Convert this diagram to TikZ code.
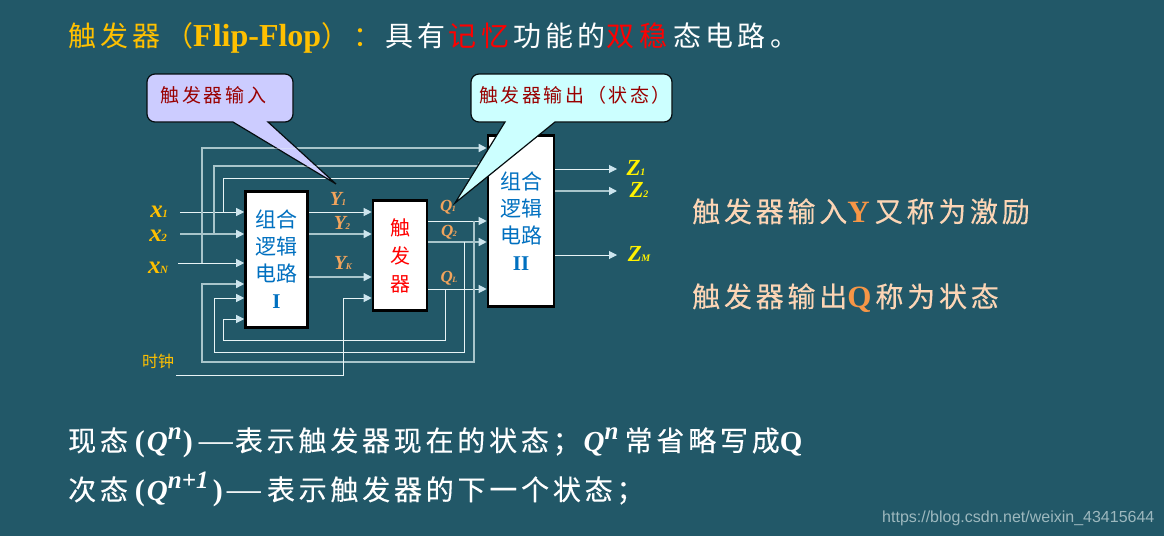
\documentclass[tikz,border=0pt]{standalone}
\usepackage{fontspec}
\setmainfont{Liberation Serif}
\setsansfont{Liberation Sans}
\newfontfamily\cjk[LetterSpace=13.5]{Noto Sans CJK SC}
\newfontfamily\cjktitle[LetterSpace=15.5]{Noto Sans CJK SC}
\newfontfamily\cjkbold[LetterSpace=13.5,FakeBold=0.25]{Noto Sans CJK SC}
\newfontfamily\cjktight{Noto Sans CJK SC}
\usetikzlibrary{arrows.meta}
\definecolor{bgc}{HTML}{225868}
\definecolor{gold}{HTML}{FFC000}
\definecolor{peach}{HTML}{FCD5B5}
\definecolor{orng}{HTML}{F79646}
\definecolor{ylab}{HTML}{F2A45C}
\definecolor{boxblue}{HTML}{0070C0}
\definecolor{wirew}{HTML}{E8F4F6}
\definecolor{wireg}{HTML}{A9C5CB}
\definecolor{tipc}{HTML}{CDE5EE}
\definecolor{calla}{HTML}{CCCCFF}
\definecolor{callb}{HTML}{CCFFFF}
\definecolor{callt}{HTML}{990000}
\definecolor{wm}{HTML}{9DB8BE}
\newcommand\fs[1]{\fontsize{#1}{#1}\selectfont}
\newcommand\symb[4]{{\fs{#1}\bfseries\itshape #3\kern-0.5pt\fs{#2}\normalfont\itshape\bfseries #4}}
\newcommand\supq[2]{\raisebox{0.40em}{\makebox[#1pt][l]{\fs{25}\bfseries\itshape #2}}}
\newcommand\dashq{{\rmfamily\mdseries\upshape\fs{34}—}}
\tikzset{
  wire/.style={draw=wirew,line width=1pt},
  wireg/.style={draw=wireg,line width=1.5pt},
  tipped/.style={-{Triangle[length=8pt,width=8pt,color=tipc]}},
  logicbox/.style={draw=black,fill=white,line width=2.6pt,inner sep=0pt,align=center},
  labeltext/.style={inner sep=0pt,anchor=center},
  linetext/.style={inner sep=0pt,anchor=base west},
  callout/.style={draw=black!85!bgc,line width=1.2pt},
  calltext/.style={inner sep=0pt,anchor=center,text=callt,font=\fs{19}\cjk},
}
\begin{document}
\begin{tikzpicture}[x=1pt,y=-1pt]
\useasboundingbox (0,0) rectangle (1164,536);
\fill[bgc] (0,0) rectangle (1164,536);
% boxes as nodes first (coordinates), drawn later
\path node[logicbox,minimum width=62pt,minimum height=136pt,draw=none,fill=none] (b1) at (276.5,259.5) {};
\path node[logicbox,minimum width=54pt,minimum height=110pt,draw=none,fill=none] (ff) at (400,255.5) {};
\path node[logicbox,minimum width=66pt,minimum height=171pt,draw=none,fill=none] (b2) at (521,221) {};
% free ends and junctions
\coordinate (x1s) at (180,212);
\coordinate (x2s) at (180,234);
\coordinate (xns) at (178,263);
\coordinate (clks) at (176,375);
\coordinate (j1) at (223,212);
\coordinate (j2) at (214,234);
\coordinate (j3) at (202,263);
\coordinate (yy1) at (0,212);
\coordinate (yy2) at (0,234);
\coordinate (yyk) at (0,277);
\coordinate (qq1) at (0,221);
\coordinate (qq2) at (0,242);
\coordinate (qql) at (0,289);
\coordinate (z1e) at (617,169);
\coordinate (z2e) at (617,191);
\coordinate (zme) at (617,255);
\coordinate (f1) at (474,221);
\coordinate (f2) at (464,242);
\coordinate (f3) at (445,289);
% inputs
\draw[wire,tipped] (x1s) -- (b1.west |- x1s);
\draw[wireg,tipped] (x2s) -- (b1.west |- x2s);
\draw[wire,tipped] (xns) -- (b1.west |- xns);
% bypass lines to block II
\draw[wire,tipped] (j1) -- (223,178) -- (b2.west |- 0,178);
\draw[wireg,tipped] (j2) -- (214,166) -- (b2.west |- 0,166);
\draw[wireg,tipped] (j3) -- (202,148) -- (b2.west |- 0,148);
% Y lines
\draw[wire,tipped] (b1.east |- yy1) -- (ff.west |- yy1);
\draw[wireg,tipped] (b1.east |- yy2) -- (ff.west |- yy2);
\draw[wireg,tipped] (b1.east |- yyk) -- (ff.west |- yyk);
% Q lines
\draw[wire,tipped] (ff.east |- qq1) -- (b2.west |- qq1);
\draw[wireg,tipped] (ff.east |- qq2) -- (b2.west |- qq2);
\draw[wire,tipped] (ff.east |- qql) -- (b2.west |- qql);
% feedback
\draw[wireg,tipped] (f1) -- (474,362) -- (202,362) -- (202,284) -- (b1.west |- 0,284);
\draw[wire,tipped] (f2) -- (464,352) -- (214,352) -- (214,298) -- (b1.west |- 0,298);
\draw[wire,tipped] (f3) -- (445,340) -- (223,340) -- (223,319) -- (b1.west |- 0,319);
% clock
\draw[wire,tipped] (clks) -- (343,375) -- (343,298) -- (ff.west |- 0,298);
% outputs
\draw[wire,tipped] (b2.east |- z1e) -- (z1e);
\draw[wireg,tipped] (b2.east |- z2e) -- (z2e);
\draw[wire,tipped] (b2.east |- zme) -- (zme);
% boxes
\node[logicbox,minimum width=62pt,minimum height=136pt,text=boxblue,font=\fs{21}\cjktight,
  execute at begin node={\baselineskip=27pt}] (b1b) at (276.5,259.5) {组合\\逻辑\\电路\\{\fs{21}\bfseries\rmfamily I}};
\node[logicbox,minimum width=54pt,minimum height=110pt,text=red,font=\fs{20}\cjktight,
  execute at begin node={\baselineskip=28pt}] (ffb) at (400,255.5) {触\\发\\器};
\node[logicbox,minimum width=66pt,minimum height=171pt,text=boxblue,font=\fs{21}\cjktight,
  execute at begin node={\baselineskip=27pt}] (b2b) at (521,221) {组合\\逻辑\\电路\\{\fs{21}\bfseries\rmfamily II}};
% callouts
\path[callout,fill=calla,rounded corners=8pt]
  (147,74) -- (293,74) -- (293,122) [sharp corners] -- (268,122) -- (336,184) -- (233,122)
  [rounded corners=8pt] -- (147,122) -- cycle;
\begin{scope}
  \clip (268,123) -- (336,184) -- (233,123) -- cycle;
  \draw[wire,opacity=.4] (202,148) -- (b2.west |- 0,148);
  \draw[wire,opacity=.4] (214,166) -- (b2.west |- 0,166);
\end{scope}
\node[calltext] (c1) at (213.5,95) {触发器输入};
\path[callout,fill=callb,rounded corners=8pt]
  (471,74) -- (672,74) -- (672,122) [sharp corners] -- (555,122) -- (455,203) -- (505,122)
  [rounded corners=8pt] -- (471,122) -- cycle;
\node[calltext] (c2) at (575,95) {触发器输出（状态）};
% signal labels
\node[labeltext,text=gold] (lx1) at (159,212) {\symb{25}{11}{x}{1}};
\node[labeltext,text=gold] (lx2) at (158,236) {\symb{25}{11}{x}{2}};
\node[labeltext,text=gold] (lxn) at (158,268) {\symb{25}{11}{x}{N}};
\node[labeltext,text=gold,font=\fs{16}\cjktight] (clk) at (158,361) {时钟};
\node[labeltext,text=ylab] (ly1) at (338,199) {\symb{20}{9}{Y}{1}};
\node[labeltext,text=ylab] (ly2) at (342,223) {\symb{20}{9}{Y}{2}};
\node[labeltext,text=ylab] (lyk) at (343,263) {\symb{20}{9}{Y}{K}};
\node[labeltext,text=ylab] (lq1) at (448,207) {\symb{17}{8}{Q}{1}};
\node[labeltext,text=ylab] (lq2) at (449,232) {\symb{17}{8}{Q}{2}};
\node[labeltext,text=ylab] (lql) at (449,278) {\symb{17}{8}{Q}{L}};
\node[labeltext,text=yellow] (lz1) at (636,168) {\symb{23}{10}{Z}{1}};
\node[labeltext,text=yellow] (lz2) at (639,190) {\symb{23}{10}{Z}{2}};
\node[labeltext,text=yellow] (lzm) at (639,254) {\symb{23}{10}{Z}{M}};
% text lines
\node[linetext,text=white,font=\fs{28}] (title) at (68,46)
  {{\color{gold}\cjktitle 触发器（\fs{32}\bfseries\rmfamily Flip-Flop\fs{28}\mdseries\cjktitle ）：}\kern4pt\cjktitle 具有\kern3pt{\color{red}记忆}\kern4pt功能的\kern1pt{\color{red}双稳}\kern6pt态电路。};
\node[linetext,text=peach,font=\fs{28}] (t1) at (692,222)
  {\cjkbold 触发器输入{\color{orng}\fs{31}\bfseries\rmfamily Y}\kern5pt\mdseries\fs{28}\cjkbold 又称为激励};
\node[linetext,text=peach,font=\fs{28}] (t2) at (692,307)
  {\cjkbold 触发器输出{\color{orng}\fs{31}\bfseries\rmfamily Q}\kern4pt\mdseries\fs{28}\cjkbold 称为状态};
\node[linetext,text=white,font=\fs{28}] (b1t) at (68,451)
  {\cjkbold 现态\kern7pt{\rmfamily\bfseries\fs{30}(\kern2pt\fs{29}\itshape Q\supq{15}{n}\upshape\fs{30})}\kern6pt\dashq\kern2pt\cjkbold 表示触发器现在的状态；\kern3pt{\rmfamily\bfseries\itshape\fs{29}Q\supq{20}{n}}\cjkbold 常省略写成{\rmfamily\bfseries\fs{29}Q}};
\node[linetext,text=white,font=\fs{28}] (b2t) at (68,500)
  {\cjkbold 次态\kern7pt{\rmfamily\bfseries\fs{30}(\kern2pt\fs{29}\itshape Q\supq{45}{n+1}\upshape\fs{30})}\kern4pt\dashq\kern6pt\cjkbold 表示触发器的下一个状态；};
\node[linetext,text=wm,font=\fs{16}\sffamily] (wmk) at (882,522) {https://blog.csdn.net/weixin\_43415644};
\end{tikzpicture}
\end{document}
